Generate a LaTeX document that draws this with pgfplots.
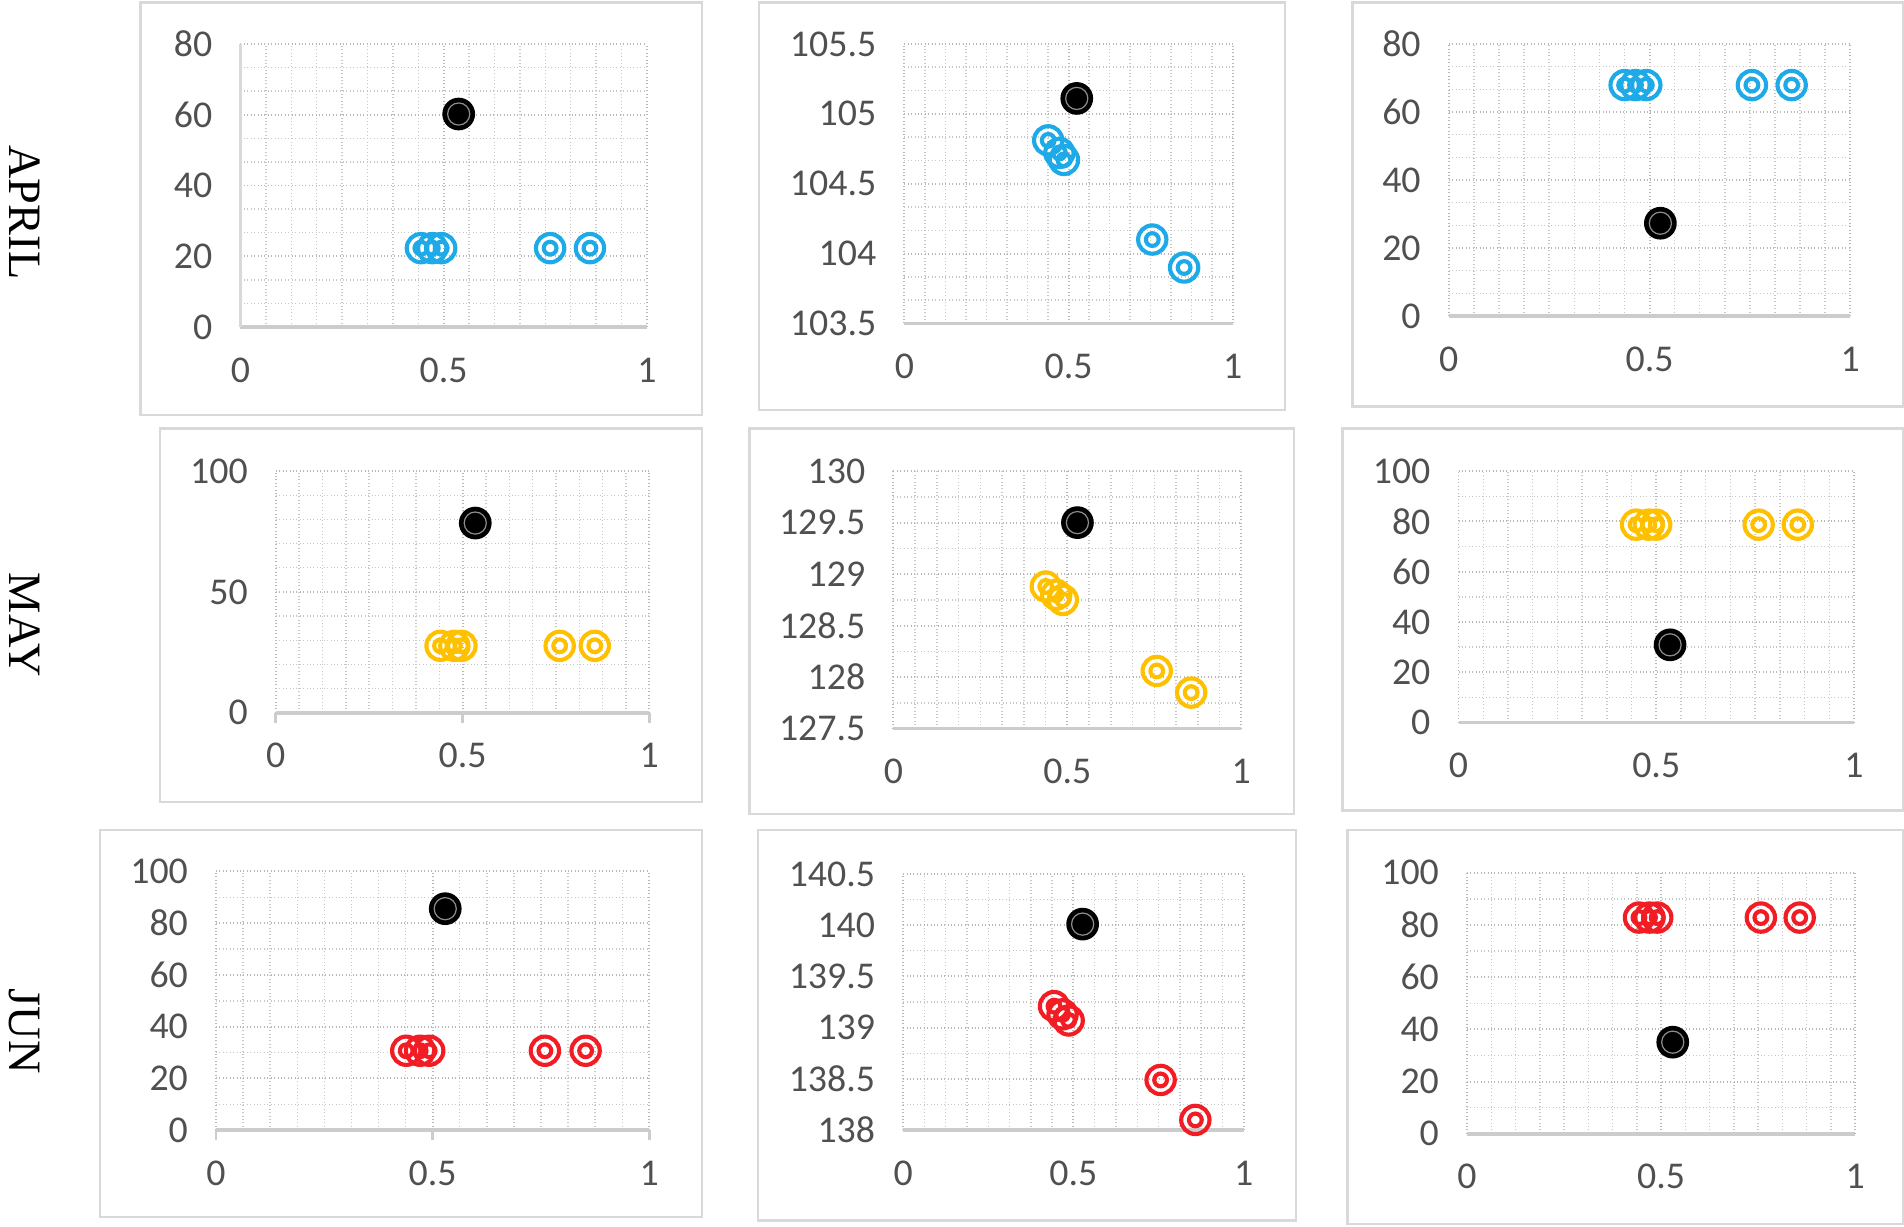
\documentclass[border=0pt]{standalone}
\usepackage{fontspec}
\setmainfont{Carlito}
\newfontfamily\serifrow{Liberation Serif}
\usepackage{pgfplots}
\pgfplotsset{compat=1.18}

\definecolor{cblue}{HTML}{1EAAE7}
\definecolor{cyel}{HTML}{FFC000}
\definecolor{cred}{HTML}{F21D24}
\definecolor{boxgray}{HTML}{D9D9D9}
\definecolor{ticktext}{HTML}{505050}

\pgfdeclareplotmark{dcirc}{%
  \pgfpathcircle{\pgfpointorigin}{\pgfplotmarksize}\pgfusepathqstroke
  \pgfpathcircle{\pgfpointorigin}{0.45\pgfplotmarksize}\pgfusepathqstroke}
\pgfdeclareplotmark{bdot}{%
  \pgfpathcircle{\pgfpointorigin}{\pgfplotmarksize}\pgfusepathqfillstroke
  \pgfsetstrokecolor{black!45}\pgfsetlinewidth{0.5pt}%
  \pgfpathcircle{\pgfpointorigin}{0.72\pgfplotmarksize}\pgfusepathqstroke}

\pgfplotsset{
  panel/.style={scale only axis, anchor=south west,
    xmin=0, xmax=1, xtick={0,0.5,1}, minor x tick num=7,
    grid=both,
    major grid style={black!28, densely dotted, line width=0.8pt},
    minor grid style={black!22, densely dotted, line width=0.6pt},
    major tick length=0pt, minor tick length=0pt,
    axis x line*=bottom, axis y line*=left,
    x axis line style={-, draw=black!20, line width=1.5pt},
    y axis line style={draw=none},
    tick label style={font=\fontsize{15.5}{18}\selectfont, text=ticktext},
    xticklabel style={yshift=-9pt},
    yticklabel style={xshift=-8pt},
    /pgf/number format/assume math mode=true,
    scaled ticks=false, clip=false},
  bticks/.style={major tick length=4pt, tick align=outside,
    major x tick style={draw=black!20, line width=1.2pt},
    ytick style={draw=none},
    xticklabel style={yshift=4pt},
    yticklabel style={xshift=4pt}},
  ser/.style={only marks, mark=dcirc, mark size=5.8pt,
    mark options={draw=#1, line width=1.7pt}},
  blk/.style={only marks, mark=bdot, mark size=6.3pt,
    mark options={draw=black, fill=black, line width=0.8pt}},
}

\begin{document}
\begin{tikzpicture}
\path (0pt,0pt) rectangle (780pt,502.5pt);
% panel frames
\begin{scope}[draw=boxgray, line width=1pt]
\draw (57.5pt,332.5pt) rectangle (287.5pt,501.5pt);
\draw (311pt,334.5pt) rectangle (526.5pt,501.5pt);
\draw (554pt,336pt) rectangle (779.5pt,501.5pt);
\draw (65.5pt,174pt) rectangle (287.5pt,327pt);
\draw (307pt,169pt) rectangle (530pt,327pt);
\draw (550pt,170.5pt) rectangle (779.5pt,327pt);
\draw (41pt,4pt) rectangle (287.5pt,162.5pt);
\draw (310.5pt,2.5pt) rectangle (531pt,162.5pt);
\draw (552pt,1pt) rectangle (779.5pt,162.5pt);
\end{scope}
% row labels
\node[rotate=-90, font=\serifrow\fontsize{19}{22}\selectfont] at (10pt,415.5pt) {APRIL};
\node[rotate=-90, font=\serifrow\fontsize{19}{22}\selectfont] at (10pt,246.5pt) {MAY};
\node[rotate=-90, font=\serifrow\fontsize{19}{22}\selectfont] at (10pt,80pt) {JUN};

% ---------- APRIL ----------
\begin{axis}[panel, at={(98.5pt,368.5pt)}, width=166.5pt, height=116pt,
  ymin=0, ymax=80, ytick={0,20,40,60,80}, minor y tick num=2,
  y axis line style={draw=black!15, line width=1pt}]
\addplot[ser=cblue] coordinates {(0.444,22.3) (0.472,22.3) (0.494,22.3) (0.762,22.3) (0.860,22.3)};
\addplot[blk] coordinates {(0.537,60.2)};
\end{axis}
\begin{axis}[panel, at={(370.5pt,370pt)}, width=134.5pt, height=114.5pt,
  ymin=103.5, ymax=105.5, ytick={103.5,104,104.5,105,105.5}, minor y tick num=2]
\addplot[ser=cblue] coordinates {(0.438,104.81) (0.472,104.72) (0.486,104.67) (0.755,104.10) (0.852,103.90)};
\addplot[blk] coordinates {(0.525,105.11)};
\end{axis}
\begin{axis}[panel, at={(593.5pt,373pt)}, width=164.5pt, height=111.5pt,
  ymin=0, ymax=80, ytick={0,20,40,60,80}, minor y tick num=2]
\addplot[ser=cblue] coordinates {(0.438,67.9) (0.465,67.9) (0.492,67.9) (0.755,67.9) (0.854,67.9)};
\addplot[blk] coordinates {(0.527,27.3)};
\end{axis}

% ---------- MAY ----------
\begin{axis}[panel, bticks, at={(113pt,210.5pt)}, width=153pt, height=99pt,
  ymin=0, ymax=100, ytick={0,50,100}, minor y tick num=4]
\addplot[ser=cyel] coordinates {(0.441,27.7) (0.478,27.7) (0.497,27.7) (0.760,27.7) (0.854,27.7)};
\addplot[blk] coordinates {(0.534,78.5)};
\end{axis}
\begin{axis}[panel, at={(366pt,204pt)}, width=142.5pt, height=105.5pt,
  ymin=127.5, ymax=130, ytick={127.5,128,128.5,129,129.5,130}, minor y tick num=1]
\addplot[ser=cyel] coordinates {(0.438,128.88) (0.468,128.80) (0.487,128.75) (0.757,128.06) (0.856,127.85)};
\addplot[blk] coordinates {(0.529,129.50)};
\end{axis}
\begin{axis}[panel, at={(597.5pt,206.5pt)}, width=162pt, height=103pt,
  ymin=0, ymax=100, ytick={0,20,40,60,80,100}, minor y tick num=1]
\addplot[ser=cyel] coordinates {(0.449,78.7) (0.481,78.7) (0.500,78.7) (0.759,78.7) (0.858,78.7)};
\addplot[blk] coordinates {(0.535,30.9)};
\end{axis}

% ---------- JUN ----------
\begin{axis}[panel, bticks, at={(88.5pt,39.5pt)}, width=177.5pt, height=106pt,
  ymin=0, ymax=100, ytick={0,20,40,60,80,100}, minor y tick num=1]
\addplot[ser=cred] coordinates {(0.439,30.7) (0.471,30.7) (0.492,30.7) (0.759,30.7) (0.853,30.7)};
\addplot[blk] coordinates {(0.529,85.6)};
\end{axis}
\begin{axis}[panel, at={(370pt,39.5pt)}, width=139.5pt, height=105pt,
  ymin=138, ymax=140.5, ytick={138,138.5,139,139.5,140,140.5}, minor y tick num=1]
\addplot[ser=cred] coordinates {(0.443,139.21) (0.468,139.13) (0.486,139.07) (0.756,138.49) (0.858,138.10)};
\addplot[blk] coordinates {(0.527,140.01)};
\end{axis}
\begin{axis}[panel, at={(601pt,38pt)}, width=159pt, height=107pt,
  ymin=0, ymax=100, ytick={0,20,40,60,80,100}, minor y tick num=1]
\addplot[ser=cred] coordinates {(0.443,82.8) (0.470,82.8) (0.490,82.8) (0.757,82.8) (0.857,82.8)};
\addplot[blk] coordinates {(0.530,35.1)};
\end{axis}
\end{tikzpicture}
\end{document}
